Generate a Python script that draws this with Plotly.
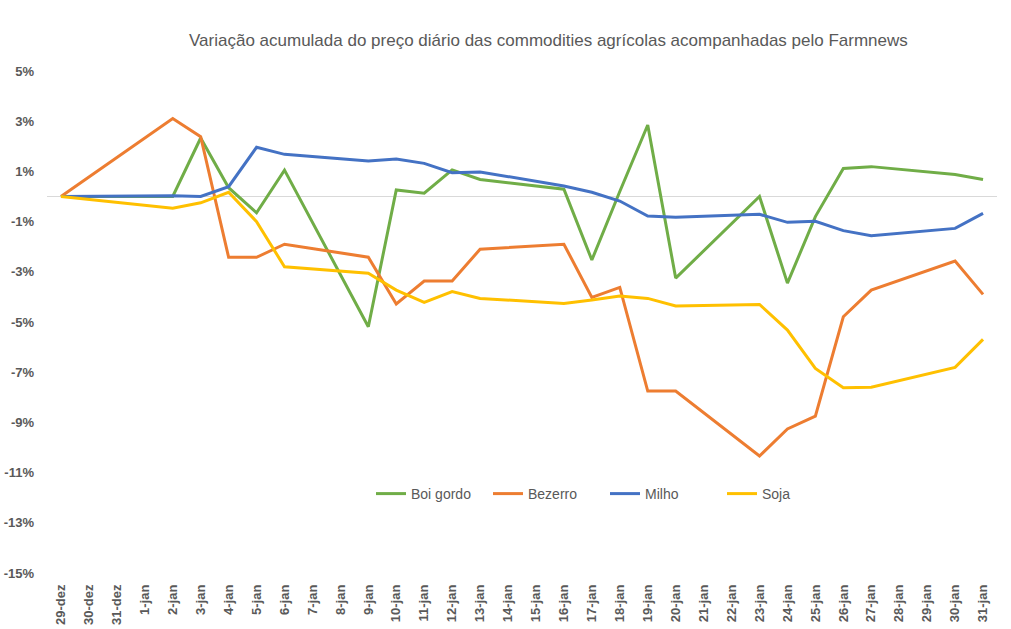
import plotly.graph_objects as go

all_dates = ["29-dez", "30-dez", "31-dez"] + [f"{d}-jan" for d in range(1, 32)]
trade_dates = ["29-dez", "2-jan", "3-jan", "4-jan", "5-jan", "6-jan", "9-jan", "10-jan",
               "11-jan", "12-jan", "13-jan", "16-jan", "17-jan", "18-jan", "19-jan",
               "20-jan", "23-jan", "24-jan", "25-jan", "26-jan", "27-jan", "30-jan", "31-jan"]

boi_gordo = [0, 0.0, 2.33, 0.35, -0.65, 1.05, -5.19, 0.26, 0.13, 1.06, 0.68, 0.29, -2.53,
             0.2, 2.85, -3.25, 0.0, -3.45, -0.8, 1.12, 1.19, 0.88, 0.68]
bezerro = [0, 3.11, 2.38, -2.42, -2.42, -1.9, -2.42, -4.28, -3.37, -3.37, -2.1, -1.9, -4.02,
           -3.62, -7.75, -7.75, -10.34, -9.26, -8.75, -4.79, -3.73, -2.57, -3.9]
milho = [0, 0.03, 0.0, 0.39, 1.96, 1.68, 1.41, 1.49, 1.32, 0.95, 0.98, 0.42, 0.17, -0.18,
         -0.78, -0.83, -0.71, -1.03, -0.99, -1.36, -1.56, -1.27, -0.67]
soja = [0, -0.47, -0.25, 0.17, -1.0, -2.8, -3.06, -3.73, -4.22, -3.79, -4.06, -4.26, -4.12,
        -3.96, -4.06, -4.36, -4.3, -5.32, -6.85, -7.62, -7.6, -6.81, -5.69]

series = [("Boi gordo", boi_gordo, "#70ad47"), ("Bezerro", bezerro, "#ed7d31"),
          ("Milho", milho, "#4472c4"), ("Soja", soja, "#ffc000")]

y_ticks = list(range(-15, 6, 2))
y_ticktext = [f"{v}%" for v in y_ticks]

fig = go.Figure()
for name, vals, color in series:
    fig.add_trace(go.Scatter(x=trade_dates, y=vals, name=name, mode="lines",
                             line=dict(color=color, width=3)))

W, H = 1011, 629
l, r, t, b = 47, 14, 71, 56
pw = W - l - r
fig.update_layout(
    width=W, height=H,
    margin=dict(l=l, r=r, t=t, b=b, autoexpand=False),
    paper_bgcolor="white", plot_bgcolor="white",
    font=dict(family="Liberation Sans, Arial, sans-serif", color="#595959"),
    showlegend=True,
    legend=dict(orientation="h", x=(371 - l) / pw,
                xanchor="left", y=(573 - 494) / 502, yanchor="middle",
                font=dict(size=14, color="#595959"), bgcolor="rgba(0,0,0,0)",
                entrywidth=72, entrywidthmode="pixels"),
    annotations=[dict(text="Variação acumulada do preço diário das commodities agrícolas acompanhadas pelo Farmnews",
                      xref="paper", yref="paper",
                      x=(548 - l) / pw, y=(573 - 40) / 502,
                      xanchor="center", yanchor="middle", showarrow=False,
                      font=dict(size=17, color="#595959"))],
)
fig.update_xaxes(type="category", categoryorder="array", categoryarray=all_dates,
                 tickmode="array", tickvals=all_dates, ticktext=all_dates,
                 range=[-0.5, len(all_dates) - 0.5], tickangle=-90,
                 showgrid=False, showline=False, zeroline=False, ticks="",
                 ticklabelstandoff=8,
                 tickfont=dict(size=13, color="#595959", weight="bold"))
fig.update_yaxes(range=[-15, 5], tickmode="array", tickvals=y_ticks, ticktext=y_ticktext,
                 showgrid=False, showline=False, zeroline=True, zerolinecolor="#d9d9d9",
                 zerolinewidth=1, ticks="", ticklabelstandoff=12,
                 tickfont=dict(size=13, color="#595959", weight="bold"))

fig.write_html("out.html")
